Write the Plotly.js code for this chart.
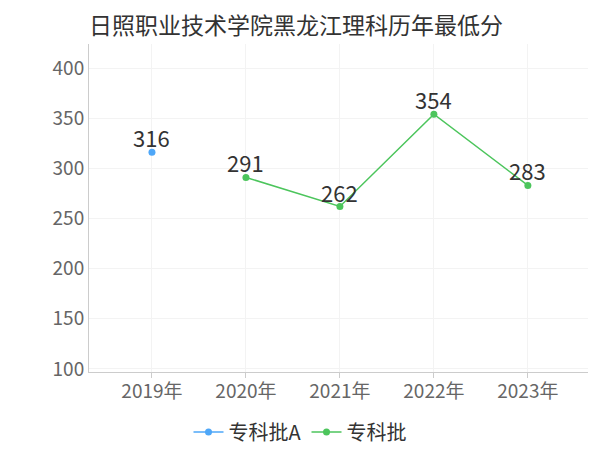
<!DOCTYPE html>
<html>
<head>
<meta charset="utf-8">
<script src="https://cdn.plot.ly/plotly-3.0.1.min.js"></script>
<style>
  html, body { margin: 0; padding: 0; background: #fff; }
  #chart { width: 600px; height: 450px; }
</style>
</head>
<body>
<div id="chart"></div>
<script>
// Years on the x axis
const years = ['2019年', '2020年', '2021年', '2022年', '2023年'];

// 专科批A (only 2019)
const batchAYears = ['2019年'];
const batchAScores = [316];

// 专科批 (2020-2023)
const batchYears = ['2020年', '2021年', '2022年', '2023年'];
const batchScores = [291, 262, 354, 283];

const font = '"Noto Sans CJK SC", "Noto Sans", sans-serif';

const batchATrace = {
    x: batchAYears,
    y: batchAScores,
    name: '专科批A',
    mode: 'lines+markers',
    line: { color: '#4ea7f8', width: 1.5 },
    marker: { color: '#4ea7f8', size: 7 },
    cliponaxis: false,
};

const batchTrace = {
    x: batchYears,
    y: batchScores,
    name: '专科批',
    mode: 'lines+markers',
    line: { color: '#4cc55c', width: 1.5 },
    marker: { color: '#4cc55c', size: 7 },
    cliponaxis: false,
};

// value labels sitting just above each point
function labels(xs, ys) {
    return xs.map((x, i) => ({
        x: x, y: ys[i], xref: 'x', yref: 'y',
        text: String(ys[i]),
        showarrow: false,
        yanchor: 'bottom',
        yshift: -3,
        font: { family: font, size: 22, color: '#333' },
    }));
}

const layout = {
    width: 600,
    height: 450,
    margin: { l: 89, r: 12, t: 44, b: 78, autoexpand: false },
    paper_bgcolor: '#fff',
    plot_bgcolor: '#fff',
    font: { family: font, color: '#666' },
    title: {
        text: '日照职业技术学院黑龙江理科历年最低分',
        font: { family: font, size: 23, color: '#333' },
        x: 0, xref: 'paper', xanchor: 'left',
        y: 0.96, yref: 'container',
    },
    xaxis: {
        type: 'category',
        categoryorder: 'array',
        categoryarray: years,
        range: [-0.67, 4.64],
        showgrid: true,
        gridcolor: '#f3f3f3',
        showline: true,
        linecolor: '#ccc',
        ticks: 'outside',
        ticklen: 5,
        tickcolor: '#ccc',
        ticklabelstandoff: -3,
        tickfont: { size: 19, color: '#666' },
        zeroline: false,
    },
    yaxis: {
        range: [97, 424],
        tickvals: [100, 150, 200, 250, 300, 350, 400],
        showgrid: true,
        gridcolor: '#f3f3f3',
        showline: true,
        linecolor: '#ccc',
        ticks: '',
        tickfont: { size: 19, color: '#666' },
        zeroline: false,
    },
    annotations: labels(batchAYears, batchAScores).concat(labels(batchYears, batchScores)),
    showlegend: true,
    legend: {
        orientation: 'h',
        x: 0.5, xanchor: 'center', xref: 'container',
        y: 0.04, yanchor: 'middle', yref: 'container',
        font: { family: font, size: 20, color: '#333' },
        itemwidth: 30,
        tracegroupgap: 0,
    },
};

Plotly.newPlot('chart', [batchATrace, batchTrace], layout, { displayModeBar: false, staticPlot: true });
</script>
</body>
</html>
